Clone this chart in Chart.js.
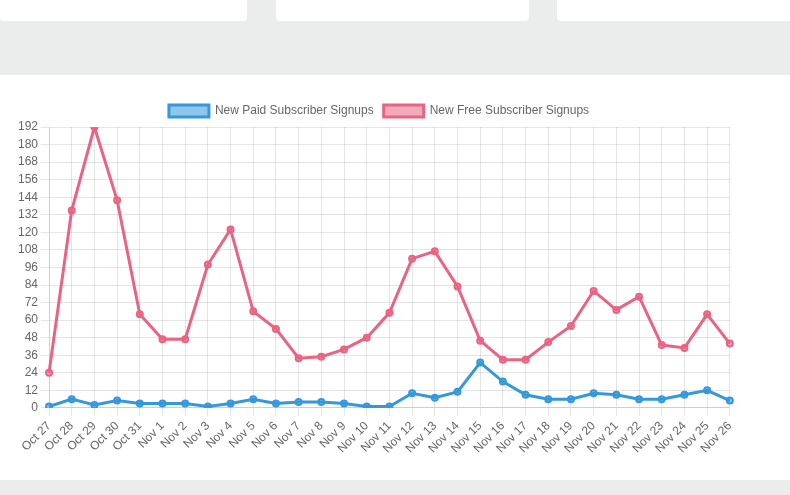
<!DOCTYPE HTML>
<html>
<head>
  <title>Subscriber Signups</title>
  <meta name="viewport" content="width=device-width, initial-scale=1">
  <script src="https://cdn.jsdelivr.net/npm/chart.js"></script>
  <style>
    body { font-family: "Liberation Sans", Arial, sans-serif; margin: 0; background: #ebeded; width: 790px; height: 495px; overflow: hidden; position: relative; }
    .card { position: absolute; top: -10px; height: 31px; background: #fff; border-radius: 4px; }
    .panel { position: absolute; left: 0; top: 75px; width: 790px; height: 405px; background: #fff; }
    .wrap { position: absolute; left: 15px; top: 20px; width: 728px; height: 364px; }
  </style>
</head>
<body>
  <div class="card" style="left:0;width:247px"></div>
  <div class="card" style="left:276px;width:253px"></div>
  <div class="card" style="left:557px;width:240px"></div>
  <div class="panel">
    <div class="wrap"><canvas id="signups"></canvas></div>
  </div>
  <script>
    const days = ['Oct 27', 'Oct 28', 'Oct 29', 'Oct 30', 'Oct 31', 'Nov 1', 'Nov 2', 'Nov 3', 'Nov 4', 'Nov 5',
      'Nov 6', 'Nov 7', 'Nov 8', 'Nov 9', 'Nov 10', 'Nov 11', 'Nov 12', 'Nov 13', 'Nov 14', 'Nov 15',
      'Nov 16', 'Nov 17', 'Nov 18', 'Nov 19', 'Nov 20', 'Nov 21', 'Nov 22', 'Nov 23', 'Nov 24', 'Nov 25', 'Nov 26'];
    const paidSignups = [1, 6, 2, 5, 3, 3, 3, 1, 3, 6, 3, 4, 4, 3, 1, 1, 10, 7, 11, 31, 18, 9, 6, 6, 10, 9, 6, 6, 9, 12, 5];
    const freeSignups = [24, 135, 192, 142, 64, 47, 47, 98, 122, 66, 54, 34, 35, 40, 48, 65, 102, 107, 83, 46,
      33, 33, 45, 56, 80, 67, 76, 43, 41, 64, 44];

    Chart.defaults.font.family = '"Liberation Sans", Arial, sans-serif';
    Chart.defaults.font.size = 12;
    Chart.defaults.color = '#666';

    new Chart(document.getElementById('signups'), {
      type: 'line',
      data: {
        labels: days,
        datasets: [{
          label: 'New Paid Subscriber Signups',
          data: paidSignups,
          borderColor: 'rgb(52, 152, 219)',
          backgroundColor: 'rgba(52, 152, 219, 0.55)',
          borderWidth: 3,
          pointRadius: 3,
          pointBorderWidth: 2,
          fill: false,
          tension: 0
        }, {
          label: 'New Free Subscriber Signups',
          data: freeSignups,
          borderColor: 'rgb(233, 100, 131)',
          backgroundColor: 'rgba(233, 100, 131, 0.55)',
          borderWidth: 3,
          pointRadius: 3,
          pointBorderWidth: 2,
          fill: false,
          tension: 0
        }]
      },
      options: {
        responsive: true,
        maintainAspectRatio: false,
        animation: false,
        plugins: {
          legend: { labels: { boxWidth: 40, boxHeight: 12 } },
          tooltip: { enabled: false }
        },
        scales: {
          x: {
            grid: { color: 'rgba(0,0,0,0.1)' },
            ticks: { minRotation: 45, maxRotation: 45, autoSkip: false }
          },
          y: {
            min: 0,
            max: 192,
            grid: { color: 'rgba(0,0,0,0.1)' },
            ticks: { stepSize: 12 }
          }
        }
      }
    });
  </script>
</body>
</html>
